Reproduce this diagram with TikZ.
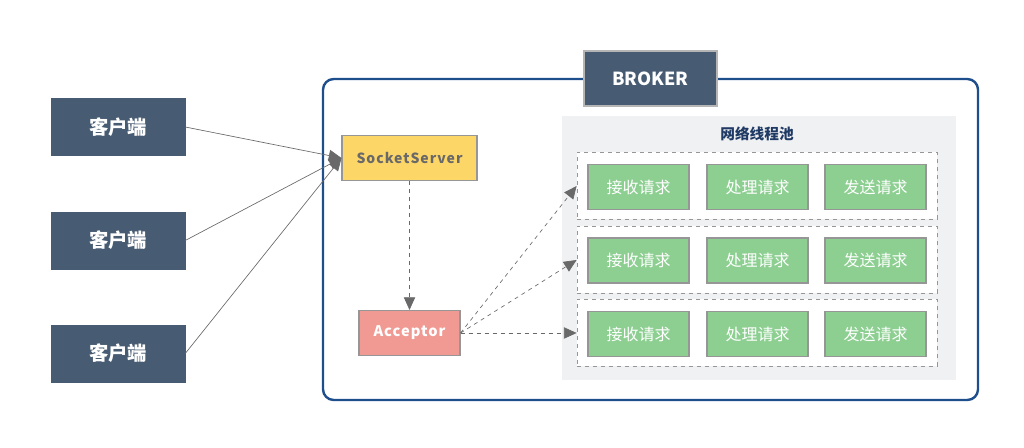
\documentclass[tikz,border=0pt]{standalone}
\usepackage{fontspec}
\setmainfont{Noto Sans CJK SC}
\usepackage{tikz}
\usetikzlibrary{arrows.meta,positioning,calc}
\definecolor{slate}{RGB}{71,91,114}
\definecolor{brokerblue}{RGB}{31,78,140}
\definecolor{sockyellow}{RGB}{252,214,103}
\definecolor{accpink}{RGB}{240,154,147}
\definecolor{poolgray}{RGB}{240,241,243}
\definecolor{reqgreen}{RGB}{140,207,145}
\definecolor{edgegray}{RGB}{150,150,150}
\definecolor{arrgray}{RGB}{105,105,105}
\definecolor{titleblue}{RGB}{31,58,100}

\tikzset{
    client/.style={fill=slate, draw=slate, text=white, minimum width=100.5pt, minimum height=42.75pt, font=\fontsize{14.5}{16}\selectfont\bfseries},
    reqbox/.style={fill=reqgreen, draw=edgegray, line width=0.8pt, text=white, minimum width=75.75pt, minimum height=33.75pt, font=\fontsize{12}{14}\selectfont},
    rowbox/.style={fill=white, draw=edgegray, dashed, line width=0.6pt, minimum width=270pt, minimum height=50.25pt},
    link/.style={draw=arrgray, line width=0.5pt, -{Triangle[length=9.5pt,width=8.5pt]}},
    dlink/.style={link, dashed},
}

\begin{document}
\begin{tikzpicture}[x=0.75pt, y=-0.75pt]
            \useasboundingbox (0,0) rectangle (1024,448);
            % broker frame
            \draw[brokerblue, line width=1.8pt, rounded corners=8pt] (323,79) rectangle (978,400);
            \node[fill=slate, draw=edgegray!70, line width=0.8pt, text=white, minimum width=99.75pt, minimum height=41.25pt, font=\fontsize{13.5}{16}\selectfont\bfseries] (broker) at (650.5,78.5) {BROKER};

            % clients
            \node[client] (client1) at (118,127) {客户端};
            \node[client] (client2) at (118,240.5) {客户端};
            \node[client] (client3) at (118,353.5) {客户端};

            \node[fill=sockyellow, draw=edgegray, line width=0.8pt, text=arrgray, minimum width=101.25pt, minimum height=33.75pt, font=\fontsize{10.5}{12}\selectfont\bfseries\addfontfeatures{LetterSpace=7}] (socket) at (409.5,158) {SocketServer};
            \node[fill=accpink, draw=edgegray, line width=0.8pt, text=white, minimum width=75.75pt, minimum height=33.75pt, font=\fontsize{11}{12}\selectfont\bfseries\addfontfeatures{LetterSpace=7}] (acceptor) at (409.5,333) {Acceptor};

            % network thread pool
            \fill[poolgray] (562,116) rectangle (956,380);
            \node[text=titleblue, font=\fontsize{11}{13}\selectfont\bfseries] (pooltitle) at (757,133.5) {网络线程池};

            \node[rowbox] (row1) at (757,186) {};
            \node[rowbox] (row2) at (757,260) {};
            \node[rowbox] (row3) at (757,333) {};

            \node[reqbox] (recv1) at (638.5,187) {接收请求};
            \node[reqbox] (proc1) at (757.5,187) {处理请求};
            \node[reqbox] (send1) at (875.5,187) {发送请求};
            \node[reqbox] (recv2) at (638.5,260.5) {接收请求};
            \node[reqbox] (proc2) at (757.5,260.5) {处理请求};
            \node[reqbox] (send2) at (875.5,260.5) {发送请求};
            \node[reqbox] (recv3) at (638.5,334) {接收请求};
            \node[reqbox] (proc3) at (757.5,334) {处理请求};
            \node[reqbox] (send3) at (875.5,334) {发送请求};

            % connections
            \draw[link] (client1.east) -- (socket.west);
            \draw[link] (client2.east) -- (socket.west);
            \draw[link] (client3.east) -- (socket.west);
            \draw[dlink] (socket.south) -- (acceptor.north);
            \draw[dlink] (acceptor.east) -- (row1.west);
            \draw[dlink] (acceptor.east) -- (row2.west);
            \draw[dlink] (acceptor.east) -- (row3.west);
        \end{tikzpicture}
\end{document}
